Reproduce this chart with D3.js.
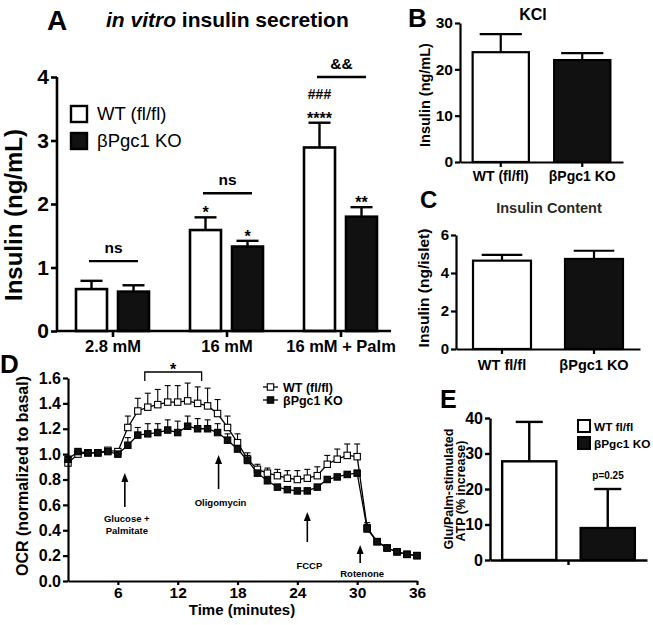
<!DOCTYPE html>
<html><head><meta charset="utf-8">
<script src="https://cdn.jsdelivr.net/npm/d3@7"></script>
<style>
body{margin:0;background:#fff}
svg{display:block}
text{font-family:"Liberation Sans",Arial,Helvetica,sans-serif;font-weight:bold;fill:#000}
</style>
</head><body><svg id="c" width="653" height="625"></svg>
<script>
// ---------------- DATA ----------------
// Panel A
const A_cats = ["2.8 mM", "16 mM", "16 mM + Palm"];
const A_series = ["WT (fl/fl)", "βPgc1 KO"];
const A_wt = [0.66, 1.59, 2.89];
const A_wtErr = [0.13, 0.20, 0.39];
const A_ko = [0.62, 1.33, 1.80];
const A_koErr = [0.10, 0.09, 0.15];
const A_yTicks = [0, 1, 2, 3, 4];
const A_wtStars = ["", "*", "****"];
const A_koStars = ["", "*", "**"];
// Panel B
const B_groups = ["WT (fl/fl)", "βPgc1 KO"];
const B_vals = [23.7, 22.0];
const B_err = [3.9, 1.5];
const B_yTicks = [0, 10, 20, 30];
// Panel C
const C_groups = ["WT fl/fl", "βPgc1 KO"];
const C_vals = [4.65, 4.74];
const C_err = [0.30, 0.43];
const C_yTicks = [0, 2, 4, 6];
// Panel D
const D_time = [1,2,3,4,5,6,7,8,9,10,11,12,13,14,15,16,17,18,19,20,21,22,23,24,25,26,27,28,29,30,31,32,33,34,35,36];
const D_wt = [0.93,1.00,1.01,1.01,1.03,1.02,1.21,1.34,1.37,1.39,1.41,1.41,1.42,1.40,1.38,1.32,1.21,1.09,0.96,0.88,0.85,0.83,0.81,0.80,0.81,0.83,0.92,0.96,0.99,0.98,0.42,0.31,0.26,0.23,0.21,0.20];
const D_wtErr = [0.02,0.01,0.01,0.01,0.01,0.01,0.09,0.10,0.11,0.12,0.13,0.13,0.14,0.13,0.14,0.11,0.09,0.07,0.05,0.04,0.04,0.05,0.06,0.07,0.07,0.07,0.07,0.08,0.09,0.10,0.04,0.01,0.01,0.01,0.01,0.01];
const D_ko = [0.96,1.02,1.01,1.01,1.02,1.00,1.07,1.15,1.16,1.17,1.19,1.17,1.22,1.20,1.20,1.17,1.11,1.04,0.95,0.85,0.79,0.74,0.72,0.71,0.71,0.74,0.80,0.82,0.84,0.85,0.41,0.31,0.26,0.23,0.21,0.20];
const D_koErr = [0.02,0.01,0.01,0.01,0.01,0.01,0.06,0.06,0.08,0.07,0.08,0.09,0.08,0.08,0.07,0.07,0.05,0.03,0.04,0.02,0.02,0.02,0.02,0.02,0.02,0.02,0.02,0.02,0.02,0.02,0.03,0.01,0.01,0.01,0.01,0.01];
const D_yTicks = [0,0.2,0.4,0.6,0.8,1.0,1.2,1.4,1.6];
const D_xTicks = [6,12,18,24,30,36];
const D_series = ["WT (fl/fl)", "βPgc1 KO"];
const D_events = [
  {t: 6.7, label: ["Glucose +", "Palmitate"]},
  {t: 16.1, label: ["Oligomycin"]},
  {t: 25.0, label: ["FCCP"]},
  {t: 30.3, label: ["Rotenone"]}
];
// Panel E
const E_groups = ["WT fl/fl", "βPgc1 KO"];
const E_vals = [27.8, 9.0];
const E_err = [11.1, 11.0];
const E_yTicks = [0, 10, 20, 30, 40];

// ---------------- HELPERS ----------------
const svg = d3.select("#c");
const KO_FILL = "#111";

function styleAxis(g, sw, fs) {
  g.select(".domain").attr("stroke-width", sw).attr("stroke", "#000");
  g.selectAll(".tick line").attr("stroke-width", sw).attr("stroke", "#000");
  g.selectAll(".tick text").style("font-size", fs + "px").style("font-weight", "bold")
    .style("font-family", '"Liberation Sans",Arial,sans-serif').attr("fill", "#000");
}
function txt(x, y, s, size, opts = {}) {
  const t = svg.append("text").attr("x", x).attr("y", y).text(s)
    .style("font-size", size + "px").attr("text-anchor", opts.anchor || "start");
  if (opts.weight) t.style("font-weight", opts.weight);
  if (opts.fill) t.style("fill", opts.fill);
  return t;
}
function vtxt(x, y, s, size) {
  return svg.append("text").attr("transform", `translate(${x},${y}) rotate(-90)`)
    .attr("text-anchor", "middle").attr("dy", "0.35em").text(s).style("font-size", size + "px");
}
function errBar(g, cx, y0, y1, half, sw) {
  g.append("line").attr("x1", cx).attr("x2", cx).attr("y1", y0).attr("y2", y1)
    .attr("stroke", "#000").attr("stroke-width", sw);
  g.append("line").attr("x1", cx - half).attr("x2", cx + half).attr("y1", y1).attr("y2", y1)
    .attr("stroke", "#000").attr("stroke-width", sw);
}

// ---------------- PANEL A ----------------
(function () {
  const g = svg.append("g");
  const x0 = d3.scaleBand().domain(A_cats).range([56, 398]);
  const x1 = d3.scaleBand().domain(A_series).range([-37, 36]).paddingInner(0.262);
  const y = d3.scaleLinear().domain([0, 4]).range([331, 77]);
  const bw = x1.bandwidth();
  A_cats.forEach((c, i) => {
    const cx = x0(c) + x0.bandwidth() / 2;
    const vals = [A_wt[i], A_ko[i]], errs = [A_wtErr[i], A_koErr[i]];
    const stars = [A_wtStars[i], A_koStars[i]];
    A_series.forEach((s, j) => {
      const bx = cx + x1(s);
      g.append("rect").attr("x", bx).attr("y", y(vals[j])).attr("width", bw)
        .attr("height", y(0) - y(vals[j])).attr("fill", j ? KO_FILL : "#fff")
        .attr("stroke", "#000").attr("stroke-width", 2.6);
      errBar(g, bx + bw / 2, y(vals[j]), y(vals[j] + errs[j]), 11, 2.4);
      if (stars[j]) txt(bx + bw / 2, y(vals[j] + errs[j]) + 1, stars[j], 16, {anchor: "middle"});
    });
  });
  const sig = [[A_cats[0], 1.10, "ns"], [A_cats[1], 2.17, "ns"], [A_cats[2], 4.0, "&&"]];
  sig.forEach(([c, v, l]) => {
    const cx = x0(c) + x0.bandwidth() / 2;
    g.append("line").attr("x1", cx - 24).attr("x2", cx + 25).attr("y1", y(v)).attr("y2", y(v))
      .attr("stroke", "#000").attr("stroke-width", 2.4);
    txt(cx + 0.5, y(v) - 8, l, 15.5, {anchor: "middle"});
  });
  const cPalm = x0(A_cats[2]) + x0.bandwidth() / 2 + x1(A_series[0]) + bw / 2;
  txt(cPalm, y(A_wt[2] + A_wtErr[2]) - 24, "###", 14, {anchor: "middle"});
  const ya = g.append("g").attr("transform", "translate(57,0)")
    .call(d3.axisLeft(y).tickValues(A_yTicks).tickFormat(d3.format("d")).tickSize(6).tickPadding(2).tickSizeOuter(0));
  styleAxis(ya, 2.6, 21);
  ya.select(".domain").attr("d", `M0,${y(0)}V${y(4)}`);
  const xa = g.append("g").attr("transform", `translate(0,${y(0)})`)
    .call(d3.axisBottom(x0).tickSize(6).tickPadding(3).tickSizeOuter(0));
  styleAxis(xa, 2.6, 16.5);
  xa.select(".domain").attr("d", "M56,0H391");
  vtxt(14, 215, "Insulin (ng/mL)", 24);
  A_series.forEach((s, j) => {
    g.append("rect").attr("x", 71).attr("y", 106 + j * 27).attr("width", 16).attr("height", 16)
      .attr("fill", j ? KO_FILL : "#fff").attr("stroke", "#000").attr("stroke-width", 2.4);
    txt(97, 120 + j * 27, s, 18.5, {weight: "normal"});
  });
  txt(47, 30, "A", 28);
  const t = txt(106, 27, "", 21);
  t.append("tspan").style("font-style", "italic").text("in vitro");
  t.append("tspan").text(" insulin secretion");
})();

// ---------------- generic 2-bar panel ----------------
function twoBar(o) {
  const g = svg.append("g");
  const x = d3.scaleBand().domain(o.groups).range([o.x0, o.x1]);
  const y = d3.scaleLinear().domain([0, o.yMax]).range([o.yb, o.yt]);
  const bw = x.bandwidth() * o.barFrac;
  o.groups.forEach((c, j) => {
    const cx = x(c) + x.bandwidth() / 2;
    g.append("rect").attr("x", cx - bw / 2).attr("y", y(o.vals[j])).attr("width", bw)
      .attr("height", y(0) - y(o.vals[j])).attr("fill", j ? KO_FILL : "#fff")
      .attr("stroke", "#000").attr("stroke-width", o.sw);
    errBar(g, cx, y(o.vals[j]), y(o.vals[j] + o.err[j]), bw * o.cap / 2, o.sw);
  });
  const ya = g.append("g").attr("transform", `translate(${o.x0},0)`)
    .call(d3.axisLeft(y).tickValues(o.yTicks).tickFormat(d3.format("d")).tickSize(5).tickPadding(2).tickSizeOuter(0));
  styleAxis(ya, o.sw, o.tickFs);
  const xa = g.append("g").attr("transform", `translate(0,${o.yb})`)
    .call(d3.axisBottom(x).tickSize(5).tickPadding(o.catPad).tickSizeOuter(0));
  styleAxis(xa, o.sw, o.catFs);
  if (o.noCats) {
    xa.selectAll(".tick").remove();
    xa.append("line").attr("x1", (o.x0 + o.x1) / 2).attr("x2", (o.x0 + o.x1) / 2)
      .attr("y1", 0).attr("y2", 5).attr("stroke", "#000").attr("stroke-width", o.sw);
  }
  return {g, x, y};
}

// ---------------- PANEL B ----------------
twoBar({groups: B_groups, vals: B_vals, err: B_err, yTicks: B_yTicks, yMax: 30,
  x0: 460, x1: 623, yb: 162, yt: 23, barFrac: 0.69, cap: 0.75, sw: 2.2,
  tickFs: 15.5, catFs: 14, catPad: 4});
vtxt(425, 95, "Insulin (ng/mL)", 14.5);
txt(408, 27, "B", 26);
txt(533, 20, "KCl", 16, {anchor: "middle"});

// ---------------- PANEL C ----------------
twoBar({groups: C_groups, vals: C_vals, err: C_err, yTicks: C_yTicks, yMax: 6,
  x0: 456, x1: 640, yb: 349, yt: 235, barFrac: 0.63, cap: 0.7, sw: 2.2,
  tickFs: 15, catFs: 14.5, catPad: 6});
vtxt(424, 288, "Insulin (ng/islet)", 15.5);
txt(420, 208, "C", 24);
txt(549, 213, "Insulin Content", 14.5, {anchor: "middle", fill: "#2a2a2a"});

// ---------------- PANEL E ----------------
twoBar({groups: E_groups, vals: E_vals, err: E_err, yTicks: E_yTicks, yMax: 40,
  x0: 490, x1: 647, yb: 560, yt: 418, barFrac: 0.69, cap: 0.5, sw: 2.4,
  tickFs: 16, catFs: 12, catPad: 4, noCats: true});
txt(440, 408, "E", 25);
vtxt(449, 489, "Glu/Palm-stimulated", 12.5);
vtxt(461, 491, "ATP (% increase)", 12.5);
E_groups.forEach((s, j) => {
  svg.append("rect").attr("x", 578).attr("y", 420 + j * 17).attr("width", 12).attr("height", 12)
    .attr("fill", j ? KO_FILL : "#fff").attr("stroke", "#000").attr("stroke-width", 2);
  txt(594, 431 + j * 17, s, 11.8);
});
txt(608, 479, "p=0.25", 10, {anchor: "middle"});

// ---------------- PANEL D ----------------
(function () {
  const g = svg.append("g");
  const x = d3.scaleLinear().domain([1, 36]).range([68, 417]);
  const y = d3.scaleLinear().domain([0, 1.6]).range([581, 378]);
  const line = d3.line().x((d, i) => x(D_time[i])).y(d => y(d));
  const sets = [[D_wt, D_wtErr, "#fff"], [D_ko, D_koErr, KO_FILL]];
  sets.forEach(([vals, errs, fill]) => {
    g.append("path").attr("d", line(vals)).attr("fill", "none").attr("stroke", "#000").attr("stroke-width", 1.3);
    vals.forEach((v, i) => errBar(g, x(D_time[i]), y(v), y(v + errs[i]), 3, 1.1));
    g.selectAll(null).data(vals).enter().append("rect")
      .attr("x", (d, i) => x(D_time[i]) - 3.2).attr("y", d => y(d) - 3.2)
      .attr("width", 6.4).attr("height", 6.4).attr("fill", fill)
      .attr("stroke", "#000").attr("stroke-width", 1.1);
  });
  const ya = g.append("g").attr("transform", "translate(68,0)")
    .call(d3.axisLeft(y).tickValues(D_yTicks).tickFormat(d3.format(".1f")).tickSize(5).tickPadding(2).tickSizeOuter(0));
  styleAxis(ya, 2.2, 16);
  const xa = g.append("g").attr("transform", "translate(0,581)")
    .call(d3.axisBottom(x).tickValues(D_xTicks).tickFormat(d3.format("d")).tickSize(4).tickPadding(2).tickSizeOuter(0));
  styleAxis(xa, 2.2, 15.5);
  vtxt(22, 476, "OCR (normalized to basal)", 16);
  txt(242, 615, "Time (minutes)", 15, {anchor: "middle"});
  txt(0, 373, "D", 26);
  g.append("path").attr("d", `M${x(8.7)},381V372H${x(14.4)}V381`).attr("fill", "none")
    .attr("stroke", "#000").attr("stroke-width", 1.3);
  txt((x(8.7) + x(14.4)) / 2, 375, "*", 16, {anchor: "middle"});
  const arrowSpec = [[473, 507, 518], [455, 489, 502], [512, 542, 565], [545, 563, 573]];
  D_events.forEach((ev, i) => {
    const [tip, bot, ty] = arrowSpec[i];
    const ax = x(ev.t);
    g.append("line").attr("x1", ax).attr("x2", ax).attr("y1", tip + 5).attr("y2", bot)
      .attr("stroke", "#000").attr("stroke-width", 1.6);
    g.append("path").attr("d", `M${ax},${tip}L${ax - 3.5},${tip + 9}L${ax + 3.5},${tip + 9}Z`).attr("fill", "#000");
    ev.label.forEach((l, k) => txt(ax + 2, ty + 3.5 + k * 12, l, 9.5, {anchor: "middle"}));
  });
  D_series.forEach((s, j) => {
    const ly = 387 + j * 13;
    g.append("line").attr("x1", 263).attr("x2", 278).attr("y1", ly).attr("y2", ly).attr("stroke", "#000").attr("stroke-width", 1.3);
    g.append("rect").attr("x", 267.3).attr("y", ly - 3.2).attr("width", 6.4).attr("height", 6.4)
      .attr("fill", j ? KO_FILL : "#fff").attr("stroke", "#000").attr("stroke-width", 1.1);
    txt(283, ly + 4.5, s, 12.5);
  });
})();
</script></body></html>
